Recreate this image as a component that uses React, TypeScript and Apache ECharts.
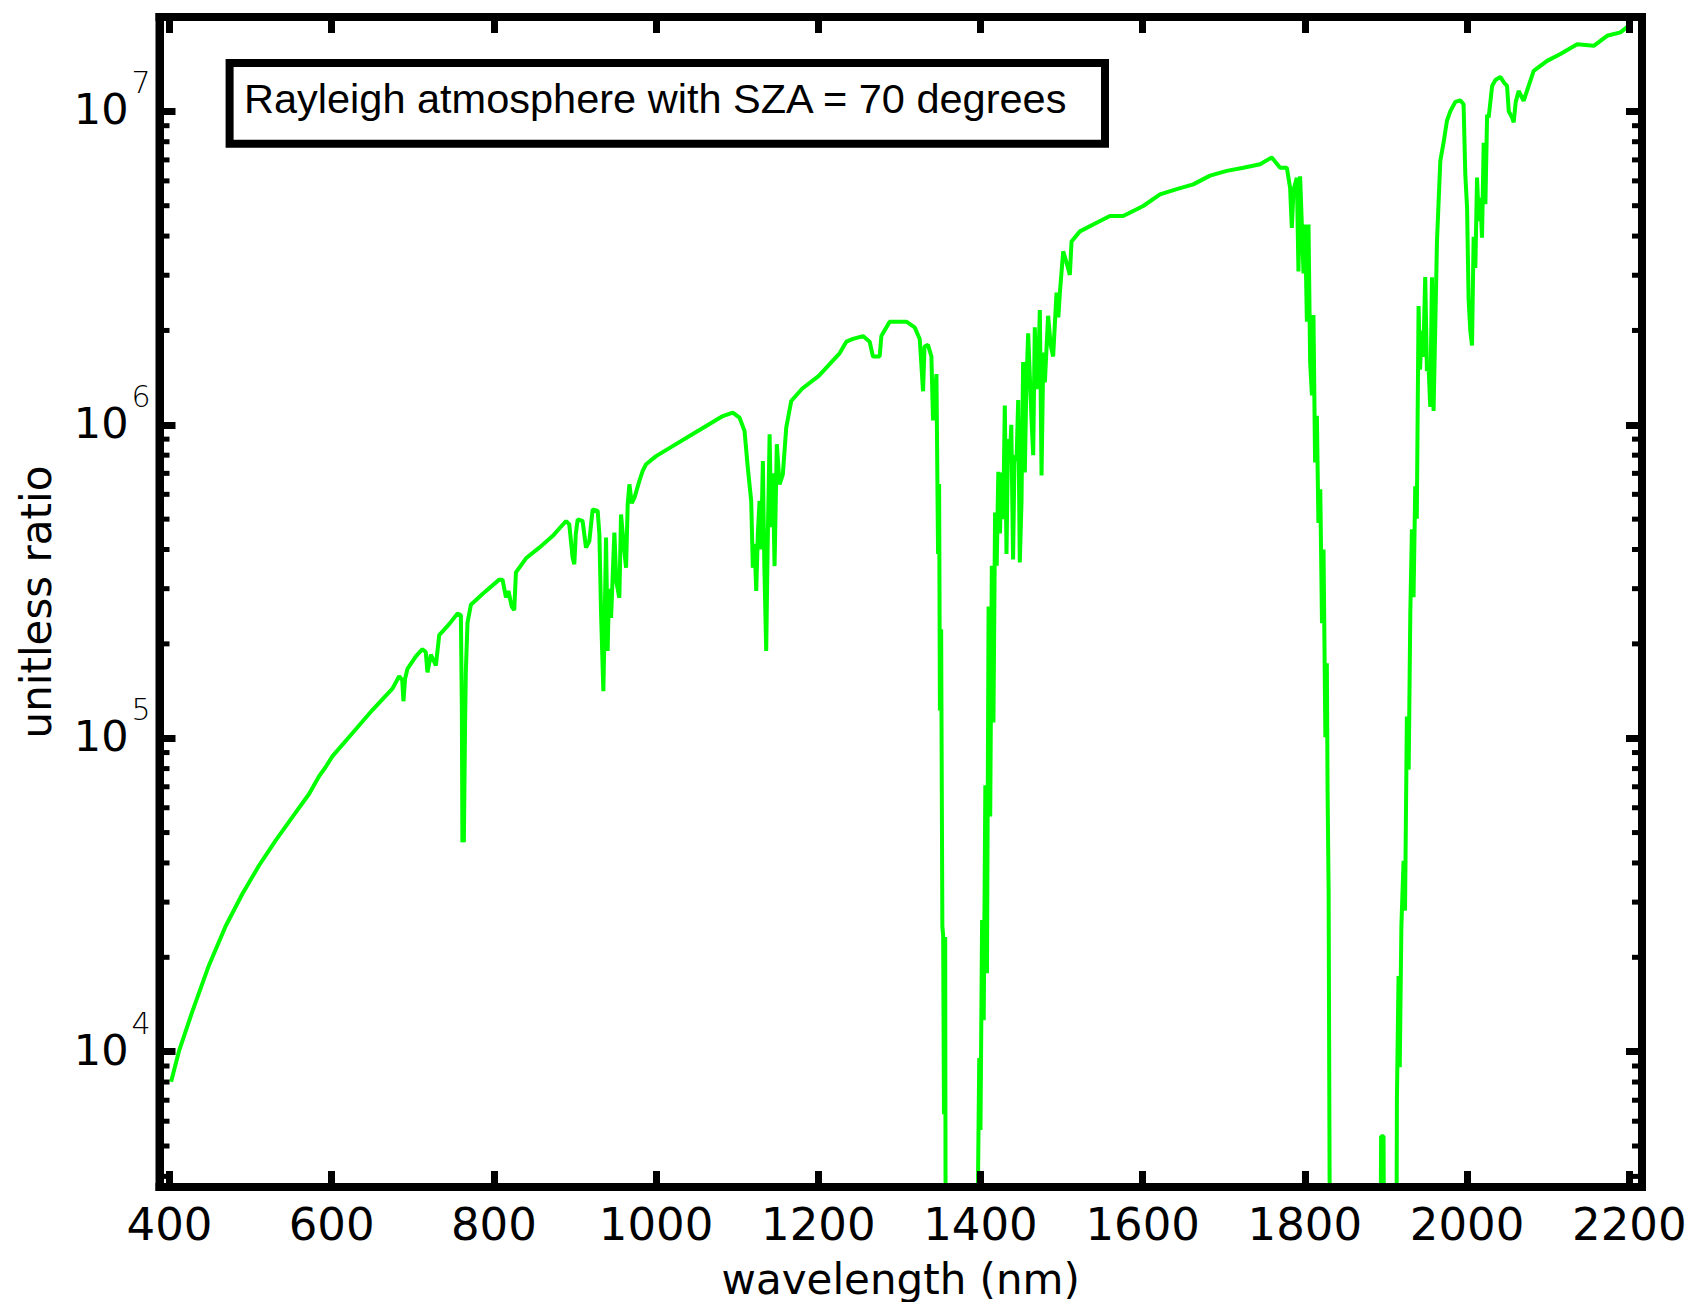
import React, { useEffect, useRef } from 'react';
import * as echarts from 'echarts';

const SANS = '"DejaVu Sans", "Liberation Sans", Arial, sans-serif';
const HELV = '"Liberation Sans", Arial, Helvetica, sans-serif';

const legendText = 'Rayleigh atmosphere with SZA = 70 degrees';
const xAxisTitle = 'wavelength (nm)';
const yAxisTitle = 'unitless ratio';

// Axis ranges (nm, unitless ratio)
const X_MIN = 387.7;
const X_MAX = 2215.7;
const Y_MIN = 3700;
const Y_MAX = 2e7;

// Minor log ticks (2..9 x 10^n) drawn along both vertical frame sides
const minorTickValues = [
  4000, 5000, 6000, 7000, 8000, 9000,
  20000, 30000, 40000, 50000, 60000, 70000, 80000, 90000,
  200000, 300000, 400000, 500000, 600000, 700000, 800000, 900000,
  2000000, 3000000, 4000000, 5000000, 6000000, 7000000, 8000000, 9000000,
];

// Spectrum: [wavelength nm, ratio]
const visibleToNir: [number, number][] = [
  [402, 8020], [411.6, 10020], [428, 13400], [448.6, 18840], [469.2, 25120],
  [489.8, 31840], [510.4, 39260], [531, 47210], [551.5, 55980], [572.1, 66370],
  [585, 76000], [592, 80500], [600.8, 87500], [625.5, 103700], [650.2, 123000],
  [674.9, 143900], [683.2, 157800], [687, 153100], [688.5, 131200], [690.5, 154900],
  [693.4, 166300], [703.8, 182400], [711.9, 192300], [716, 188400], [718.1, 162200],
  [722.3, 184900], [728.5, 170600], [732.6, 213300], [744.9, 231200], [755.2, 250000],
  [759.3, 246600], [760.5, 125900], [761.2, 46560], [762.2, 52480], [763, 46560],
  [764.5, 112200], [765.5, 166300], [767.5, 233900], [771.7, 266700], [786, 288400],
  [806.6, 320600], [810.7, 320600], [814.9, 281200], [818, 295100], [822, 263000],
  [825.1, 256400], [827.2, 338100], [839.6, 375000], [856, 405500], [872.4, 441600],
];

const band940: [number, number][] = [
  [889, 493200], [893, 480800], [897.1, 376700], [899.2, 358900], [901, 446700],
  [903.3, 498900], [909.4, 493200], [913.6, 405500], [917.7, 425600], [921.8, 537000],
  [928, 530900], [930.1, 447700], [932.2, 248300], [935, 141300], [936.5, 223900],
  [938.3, 436500], [940.3, 189700], [942, 300000], [944.5, 242100], [948.6, 452900], [951, 316200],
  [954.7, 280500], [956.8, 517600], [960, 416900], [963, 349900], [965, 557200],
  [967.1, 645700], [970, 562300], [973.3, 584800], [979.4, 662200], [983.5, 712800],
  [987.7, 748200], [1000, 794300], [1020.5, 855100], [1041.2, 920400], [1061.8, 990800],
  [1082.3, 1066000], [1094.6, 1094000],
];

const band1140: [number, number][] = [
  [1102.9, 1054000], [1109.1, 955000], [1113.1, 729500], [1117.3, 571500], [1119.3, 349900],
  [1121.5, 416900], [1123.5, 295100], [1125.5, 450000], [1127.6, 571500], [1129.5, 400000],
  [1131.7, 765600], [1133.5, 354800], [1135.8, 189700], [1137.5, 398100], [1140, 933300],
  [1142, 470900], [1144, 700000], [1146.1, 354000], [1148.9, 867000], [1152.3, 645700],
  [1156.3, 695000], [1160.5, 979500], [1166.7, 1191000],
  [1180, 1303000], [1200.6, 1432000], [1226.3, 1690000], [1234.6, 1841000], [1242.8, 1879000],
  [1255.1, 1919000], [1263.4, 1841000], [1267.4, 1652000], [1275.7, 1652000], [1277.8, 1919000],
  [1288, 2133000], [1308.7, 2133000], [1318.9, 2046000], [1325.1, 1879000],
];

const band1400: [number, number][] = [
  [1329.2, 1279000], [1331, 1778000], [1335.3, 1799000], [1339.5, 1652000], [1341.5, 1033000],
  [1345.7, 1452000], [1347.7, 387300], [1349, 647100], [1350, 122500], [1351.5, 222800],
  [1353, 25120], [1354, 23440], [1355, 6310], [1356.5, 23230], [1357.5, 316],
  [1394, 316], [1397, 3981], [1398.5, 9550], [1400, 5623], [1402, 26300],
  [1404, 12590], [1406, 70790], [1408, 17780], [1410, 263000], [1412, 56230],
  [1414, 354800], [1416, 112200], [1418, 524800], [1420, 354800], [1422, 707900],
  [1424, 450000], [1425.9, 704700], [1428, 500000], [1430, 1151000], [1432.1, 387300],
  [1434, 900000], [1436.2, 767400], [1438, 1000000], [1440.2, 371500], [1442, 800000],
  [1444.5, 767400], [1446.5, 1200000], [1448.5, 363900], [1450.6, 568900], [1452.6, 1585000],
  [1454.7, 704700], [1456.5, 1300000], [1458.8, 1959000], [1461, 1400000], [1463, 1033000],
  [1465, 799800], [1467, 2046000], [1469, 1300000], [1471.1, 1452000], [1473.2, 2323000],
  [1475.3, 688700], [1477.5, 1700000], [1479.4, 1365000], [1483.4, 2228000], [1486.5, 1800000],
  [1489.6, 1652000], [1493.8, 2642000], [1496, 2200000], [1498, 2661000], [1502, 3573000],
  [1506, 3300000], [1510.2, 3006000], [1512.3, 3846000],
];

const plateau1600: [number, number][] = [
  [1522.6, 4140000], [1539, 4355000], [1559.6, 4634000], [1576, 4634000], [1600.7, 4989000],
  [1621.4, 5433000], [1642, 5649000], [1662.4, 5848000], [1683.1, 6237000], [1703.7, 6457000],
  [1724.2, 6607000], [1744.8, 6776000], [1759.2, 7129000], [1769.5, 6607000], [1777.8, 6607000],
];

const band1900: [number, number][] = [
  [1781.8, 5702000], [1783.9, 4246000], [1786, 5623000], [1790.1, 6138000], [1792.1, 3083000],
  [1794.1, 6209000], [1796.2, 4406000], [1798.3, 3041000], [1800.3, 4355000], [1802.5, 2133000],
  [1804.5, 4355000], [1806.5, 1585000], [1808.7, 1242000], [1810.6, 2239000], [1812.6, 758600],
  [1814.8, 1069000], [1816.7, 486400], [1819, 622300], [1821.1, 232800], [1823, 399900],
  [1825.3, 100700], [1827.1, 173400], [1828, 67920], [1829.3, 32430], [1830, 9036],
  [1832, 316], [1892, 316], [1894, 5370], [1897, 5370], [1899, 316],
  [1912, 316], [1913.5, 7079], [1915.5, 17420], [1917, 8913], [1919, 25120],
  [1921.7, 40640], [1923.5, 28180], [1925.8, 117200], [1928, 79430], [1930, 250000], [1932, 464500],
  [1934, 281800], [1936.1, 636800], [1938, 501200], [1940.2, 2393000], [1942, 1500000], [1944, 1995000],
  [1946, 1648000], [1948.4, 2958000], [1950.5, 1486000], [1952.6, 1521000], [1954.6, 1140000],
  [1956.7, 2958000], [1958.7, 1107000], [1962.9, 3855000], [1967, 6950000], [1971, 7943000],
  [1975.2, 9333000], [1979.3, 10000000], [1985.5, 10720000], [1991.6, 10840000], [1995.7, 10540000],
];

const band2010: [number, number][] = [
  [1997.8, 6310000], [2000, 4932000], [2001.9, 2512000], [2004, 1995000], [2006.1, 1791000],
  [2008.1, 3981000], [2010.2, 3162000], [2012.3, 6152000], [2014.5, 4467000], [2016.4, 5297000],
  [2018.4, 3954000], [2020.5, 7943000], [2022.6, 5058000], [2024.7, 9750000], [2026.6, 9550000],
  [2030.9, 12050000], [2035, 12590000], [2041, 12880000], [2046, 12300000], [2049.3, 12050000],
  [2051.4, 10000000], [2055.5, 9550000], [2057.5, 9226000], [2060, 10720000], [2063.6, 11610000],
  [2069.8, 10810000], [2082.1, 13460000], [2098.7, 14490000], [2115.1, 15240000], [2135.7, 16370000],
  [2156.2, 16180000], [2172.7, 17420000], [2189.1, 17860000], [2199.4, 18750000], [2201.5, 17860000],
];

const spectrum: [number, number][] = [
  ...visibleToNir, ...band940, ...band1140, ...band1400, ...plateau1600, ...band1900, ...band2010,
];

const frameLine = { show: true, onZero: false, lineStyle: { color: '#000', width: 8, cap: 'square' } };
const majorTick = { show: true, inside: true, length: 16, lineStyle: { color: '#000', width: 7 } };

export default function App() {
  const ref = useRef<HTMLDivElement>(null);

  useEffect(() => {
    if (!ref.current) return;
    const chart = echarts.init(ref.current, null, { renderer: 'svg' });

    const xBase = {
      type: 'value',
      min: X_MIN,
      max: X_MAX,
      splitNumber: 9,
      minInterval: 200,
      maxInterval: 200,
      axisLine: frameLine,
      axisTick: majorTick,
      splitLine: { show: false },
      z: 10,
    };
    const yBase = {
      type: 'log',
      logBase: 10,
      min: Y_MIN,
      max: Y_MAX,
      axisLine: frameLine,
      axisTick: majorTick,
      minorTick: { show: false },
      splitLine: { show: false },
      z: 10,
    };

    const option: any = {
      animation: false,
      backgroundColor: '#fff',
      grid: {
        left: 159.5,
        top: 17,
        width: 1482.5,
        height: 1170,
        show: true,
        borderColor: '#000',
        borderWidth: 8,
        backgroundColor: 'transparent',
        containLabel: false,
        outerBoundsMode: 'none',
      },
      xAxis: [
        {
          ...xBase,
          position: 'bottom',
          axisLabel: {
            show: true,
            color: '#000',
            fontFamily: SANS,
            fontSize: 45,
            lineHeight: 45,
            margin: 15,
            showMinLabel: false,
            showMaxLabel: false,
            formatter: (v: number) => (Math.abs(v % 200) < 1e-6 ? String(Math.round(v)) : ''),
          },
          name: xAxisTitle,
          nameLocation: 'middle',
          nameGap: 71,
          nameTextStyle: { color: '#000', fontFamily: SANS, fontSize: 42, lineHeight: 42 },
        },
        {
          ...xBase,
          position: 'top',
          axisLabel: { show: false },
        },
      ],
      yAxis: [
        {
          ...yBase,
          position: 'left',
          axisLabel: {
            show: true,
            margin: 9,
            showMinLabel: false,
            showMaxLabel: false,
            formatter: (v: number) => {
              const e = Math.log10(v);
              const r = Math.round(e);
              if (Math.abs(e - r) > 1e-6) return '';
              return `{e|${r}}\n{b|10}{s| }\n{p| }`;
            },
            rich: {
              e: { fontFamily: SANS, fontSize: 30, fontWeight: 200, lineHeight: 19, color: '#000' },
              b: { fontFamily: SANS, fontSize: 43, lineHeight: 34, color: '#000' },
              s: { fontFamily: SANS, fontSize: 10, width: 22, lineHeight: 34 },
              p: { fontFamily: SANS, fontSize: 10, lineHeight: 23 },
            },
          },
          name: yAxisTitle,
          nameLocation: 'middle',
          nameGap: 102,
          nameTextStyle: { color: '#000', fontFamily: SANS, fontSize: 42, lineHeight: 42 },
        },
        {
          ...yBase,
          position: 'right',
          axisLabel: { show: false },
        },
      ],
      graphic: [
        {
          type: 'rect',
          z: 20,
          shape: { x: 229.6, y: 63, width: 875.4, height: 80.7 },
          style: { fill: '#fff', stroke: '#000', lineWidth: 8 },
        },
        {
          type: 'text',
          z: 21,
          x: 244,
          y: 98,
          style: {
            text: legendText,
            font: `41.5px ${HELV}`,
            fill: '#000',
            align: 'left',
            verticalAlign: 'middle',
          },
        },
      ],
      series: [
        {
          name: legendText,
          type: 'line',
          xAxisIndex: 0,
          yAxisIndex: 0,
          data: spectrum,
          showSymbol: false,
          symbol: 'none',
          clip: true,
          lineStyle: { color: '#00ff00', width: 4 },
          z: 2,
        },
        {
          type: 'custom',
          coordinateSystem: 'cartesian2d',
          xAxisIndex: 0,
          yAxisIndex: 0,
          silent: true,
          z: 11,
          data: minorTickValues.map((v) => [X_MIN, v]),
          encode: { x: 0, y: 1 },
          renderItem: (_params: any, api: any) => {
            const v = api.value(1);
            const l = api.coord([X_MIN, v]);
            const r = api.coord([X_MAX, v]);
            return {
              type: 'group',
              children: [
                { type: 'line', shape: { x1: l[0], y1: l[1], x2: l[0] + 10, y2: l[1] }, style: { stroke: '#000', lineWidth: 5 } },
                { type: 'line', shape: { x1: r[0], y1: r[1], x2: r[0] - 10, y2: r[1] }, style: { stroke: '#000', lineWidth: 5 } },
              ],
            };
          },
        },
      ],
    };

    chart.setOption(option);
    return () => chart.dispose();
  }, []);

  return (
    <div
      ref={ref}
      style={{ position: 'fixed', left: 0, top: 0, width: 1690, height: 1302, background: '#fff' }}
    />
  );
}
